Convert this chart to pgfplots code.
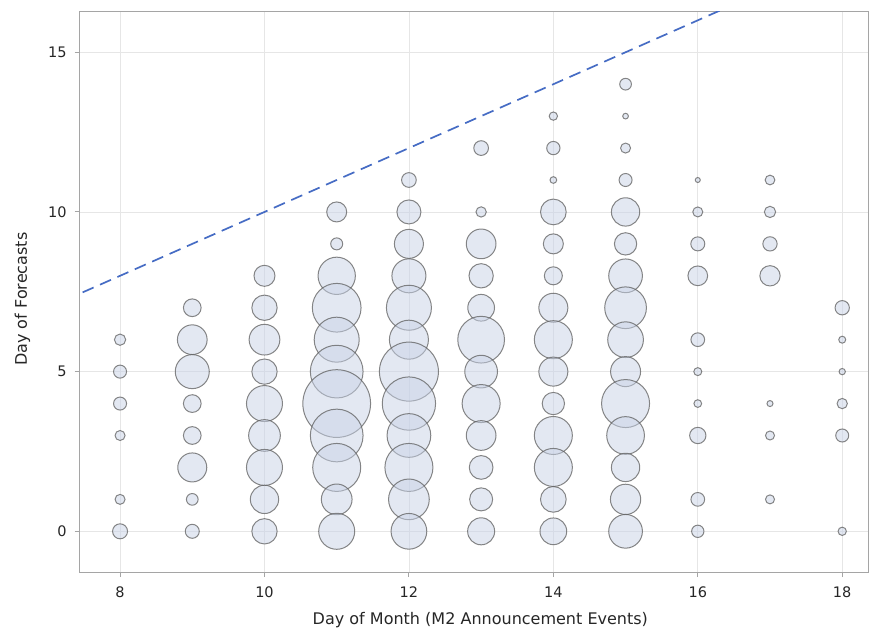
\documentclass[border=0pt]{standalone}
\usepackage{fontspec}
\setmainfont{DejaVu Sans}
\usepackage{pgfplots}
\pgfplotsset{compat=1.18}
\usepackage{pgfplotstable}
\definecolor{bubfill}{RGB}{200,210,230}
\definecolor{bubedge}{RGB}{95,95,95}
\definecolor{refblue}{RGB}{70,108,196}
\definecolor{gridc}{RGB}{230,230,230}
\definecolor{framec}{RGB}{165,165,165}
\pgfplotstableread{
x y d
8 6 12.3
8 5 14
8 4 14
8 3 11
8 1 11
8 0 16
9 7 18.7
9 6 30.7
9 5 35
9 4 18.7
9 3 18.7
9 2 30
9 1 12.7
9 0 15
10 8 22
10 7 26.3
10 6 31.7
10 5 26.3
10 4 37
10 3 32.7
10 2 37
10 1 29.3
10 0 26.3
11 10 21
11 9 13
11 8 38.3
11 7 49.7
11 6 46
11 5 53.7
11 4 68.7
11 3 53.7
11 2 49
11 1 31.7
11 0 37
12 11 15.7
12 10 25
12 9 30
12 8 35
12 7 46
12 6 40
12 5 60
12 4 54.3
12 3 44.7
12 2 49
12 1 41.7
12 0 36.7
13 12 15.7
13 10 11.3
13 9 30.7
13 8 25.3
13 7 27.7
13 6 47.7
13 5 33.7
13 4 39
13 3 30.7
13 2 24.7
13 1 24
13 0 28
14 13 9.3
14 12 14.3
14 11 7.7
14 10 26.7
14 9 21
14 8 19
14 7 30
14 6 39
14 5 30
14 4 23.3
14 3 39
14 2 39
14 1 26.7
14 0 27.7
15 14 12.7
15 13 6.7
15 12 11
15 11 14
15 10 29.3
15 9 23.3
15 8 34.7
15 7 42.7
15 6 36.7
15 5 31
15 4 49
15 3 38.7
15 2 29.3
15 1 31.3
15 0 34.7
16 11 6
16 10 11
16 9 15
16 8 20.7
16 6 14.7
16 5 9
16 4 8.7
16 3 17.3
16 1 14.7
16 0 13.3
17 11 10.7
17 10 12.3
17 9 15.3
17 8 21.3
17 4 7
17 3 10
17 1 10
18 7 15.3
18 6 8
18 5 7.3
18 4 11.3
18 3 14
18 0 9.3
}\bubbles
\begin{document}
\begin{tikzpicture}
\begin{axis}[
  name=ax,
  scale only axis,
  width=788.5pt, height=560pt,
  xmin=7.439, xmax=18.364,
  ymin=-1.275, ymax=16.27,
  xtick={8,10,...,18},
  ytick={0,5,10,15},
  grid=major,
  major grid style={draw=gridc, line width=0.8pt},
  axis line style={draw=framec, line width=1pt},
  tick style={draw=framec, line width=1pt},
  tick align=outside,
  major tick length=5pt,
  xtick pos=bottom, ytick pos=left,
  /pgf/number format/assume math mode=true,
  tick label style={font=\fontsize{14.5}{17}\selectfont, text=black!85},
  yticklabel style={xshift=-4.5pt},
  xticklabel style={yshift=-6pt},
  label style={font=\fontsize{16}{19}\selectfont, text=black!85},
  xlabel={Day of Month (M2 Announcement Events)},
  ylabel={Day of Forecasts},
  xlabel style={at={(axis description cs:0.508,-0.0929)}, anchor=base},
  ylabel style={at={(axis description cs:-0.0666,0.487)}, anchor=base, rotate=0},
  clip=true,
]
\addplot[refblue, line width=1.7pt, dash pattern=on 12pt off 7pt] coordinates {(7,7) (17,17)};
\addplot[scatter, only marks, mark=*,
  point meta=\thisrow{d},
  visualization depends on={(\thisrow{d}-1)/2 \as \rad},
  scatter/use mapped color={draw=bubedge, fill=bubfill},
  scatter/@pre marker code/.append style={/tikz/mark size=\rad},
  mark options={line width=1pt, fill opacity=0.5, draw opacity=0.75},
] table[x=x, y=y] {\bubbles};
\end{axis}
\pgfresetboundingbox
\path[use as bounding box] ([xshift=-79.5pt,yshift=-56.3pt]ax.south west) rectangle ([xshift=1.5pt,yshift=11.7pt]ax.north east);
\end{tikzpicture}
\end{document}
